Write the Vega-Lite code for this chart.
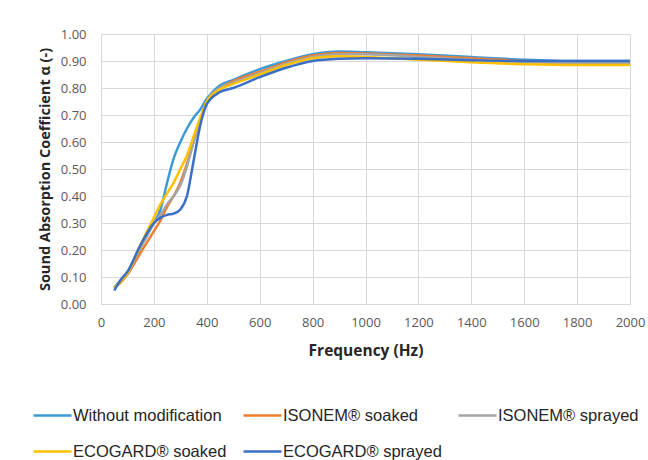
{
  "$schema": "https://vega.github.io/schema/vega-lite/v6.json",
  "width": 529,
  "height": 270,
  "autosize": {"type": "none"},
  "padding": {"left": 101, "top": 34, "right": 18, "bottom": 156},
  "background": "white",
  "config": {"view": {"stroke": null}},
  "data": {
    "values": [
      {"f": 50, "Without modification": 0.06, "ISONEM® soaked": 0.06, "ISONEM® sprayed": 0.06, "ECOGARD® soaked": 0.06, "ECOGARD® sprayed": 0.05},
      {"f": 75, "Without modification": 0.088, "ISONEM® soaked": 0.08, "ISONEM® sprayed": 0.085, "ECOGARD® soaked": 0.085, "ECOGARD® sprayed": 0.09},
      {"f": 100, "Without modification": 0.11, "ISONEM® soaked": 0.11, "ISONEM® sprayed": 0.115, "ECOGARD® soaked": 0.115, "ECOGARD® sprayed": 0.12},
      {"f": 150, "Without modification": 0.21, "ISONEM® soaked": 0.19, "ISONEM® sprayed": 0.21, "ECOGARD® soaked": 0.22, "ECOGARD® sprayed": 0.22},
      {"f": 200, "Without modification": 0.3, "ISONEM® soaked": 0.27, "ISONEM® sprayed": 0.3, "ECOGARD® soaked": 0.32, "ECOGARD® sprayed": 0.3},
      {"f": 225, "Without modification": 0.35, "ISONEM® soaked": 0.31, "ISONEM® sprayed": 0.33, "ECOGARD® soaked": 0.37, "ECOGARD® sprayed": 0.32},
      {"f": 250, "Without modification": 0.45, "ISONEM® soaked": 0.36, "ISONEM® sprayed": 0.37, "ECOGARD® soaked": 0.41, "ECOGARD® sprayed": 0.33},
      {"f": 275, "Without modification": 0.54, "ISONEM® soaked": 0.4, "ISONEM® sprayed": 0.4, "ECOGARD® soaked": 0.45, "ECOGARD® sprayed": 0.335},
      {"f": 300, "Without modification": 0.6, "ISONEM® soaked": 0.45, "ISONEM® sprayed": 0.44, "ECOGARD® soaked": 0.5, "ECOGARD® sprayed": 0.35},
      {"f": 325, "Without modification": 0.65, "ISONEM® soaked": 0.52, "ISONEM® sprayed": 0.51, "ECOGARD® soaked": 0.55, "ECOGARD® sprayed": 0.4},
      {"f": 350, "Without modification": 0.69, "ISONEM® soaked": 0.6, "ISONEM® sprayed": 0.6, "ECOGARD® soaked": 0.62, "ECOGARD® sprayed": 0.53},
      {"f": 375, "Without modification": 0.72, "ISONEM® soaked": 0.68, "ISONEM® sprayed": 0.68, "ECOGARD® soaked": 0.69, "ECOGARD® sprayed": 0.66},
      {"f": 400, "Without modification": 0.76, "ISONEM® soaked": 0.75, "ISONEM® sprayed": 0.75, "ECOGARD® soaked": 0.75, "ECOGARD® sprayed": 0.74},
      {"f": 450, "Without modification": 0.81, "ISONEM® soaked": 0.8, "ISONEM® sprayed": 0.8, "ECOGARD® soaked": 0.795, "ECOGARD® sprayed": 0.785},
      {"f": 500, "Without modification": 0.83, "ISONEM® soaked": 0.825, "ISONEM® sprayed": 0.82, "ECOGARD® soaked": 0.815, "ECOGARD® sprayed": 0.8},
      {"f": 600, "Without modification": 0.87, "ISONEM® soaked": 0.86, "ISONEM® sprayed": 0.855, "ECOGARD® soaked": 0.85, "ECOGARD® sprayed": 0.84},
      {"f": 700, "Without modification": 0.9, "ISONEM® soaked": 0.895, "ISONEM® sprayed": 0.89, "ECOGARD® soaked": 0.885, "ECOGARD® sprayed": 0.875},
      {"f": 800, "Without modification": 0.925, "ISONEM® soaked": 0.92, "ISONEM® sprayed": 0.915, "ECOGARD® soaked": 0.91, "ECOGARD® sprayed": 0.9},
      {"f": 900, "Without modification": 0.935, "ISONEM® soaked": 0.93, "ISONEM® sprayed": 0.925, "ECOGARD® soaked": 0.918, "ECOGARD® sprayed": 0.908},
      {"f": 1000, "Without modification": 0.932, "ISONEM® soaked": 0.928, "ISONEM® sprayed": 0.925, "ECOGARD® soaked": 0.915, "ECOGARD® sprayed": 0.91},
      {"f": 1200, "Without modification": 0.925, "ISONEM® soaked": 0.92, "ISONEM® sprayed": 0.915, "ECOGARD® soaked": 0.905, "ECOGARD® sprayed": 0.908},
      {"f": 1400, "Without modification": 0.915, "ISONEM® soaked": 0.91, "ISONEM® sprayed": 0.905, "ECOGARD® soaked": 0.895, "ECOGARD® sprayed": 0.903},
      {"f": 1600, "Without modification": 0.905, "ISONEM® soaked": 0.9, "ISONEM® sprayed": 0.895, "ECOGARD® soaked": 0.888, "ECOGARD® sprayed": 0.9},
      {"f": 1800, "Without modification": 0.9, "ISONEM® soaked": 0.895, "ISONEM® sprayed": 0.893, "ECOGARD® soaked": 0.885, "ECOGARD® sprayed": 0.9},
      {"f": 2000, "Without modification": 0.9, "ISONEM® soaked": 0.895, "ISONEM® sprayed": 0.893, "ECOGARD® soaked": 0.885, "ECOGARD® sprayed": 0.9}
    ]
  },
  "transform": [
    {"fold": ["Without modification", "ISONEM® soaked", "ISONEM® sprayed", "ECOGARD® soaked", "ECOGARD® sprayed"], "as": ["series", "alpha"]}
  ],
  "mark": {"type": "line", "interpolate": "monotone", "strokeWidth": 2.5},
  "encoding": {
    "x": {
      "field": "f", "type": "quantitative",
      "scale": {"domain": [0, 2000], "nice": false},
      "axis": {
        "values": [0, 200, 400, 600, 800, 1000, 1200, 1400, 1600, 1800, 2000],
        "format": "d",
        "title": "Frequency (Hz)",
        "titleFont": "Open Sans", "titleFontSize": 15.5, "titleFontWeight": "bold", "titleColor": "#262626",
        "titlePadding": 14,
        "labelFont": "Open Sans", "labelFontSize": 13, "labelColor": "#595959", "labelPadding": 12,
        "ticks": false, "domainColor": "#d9d9d9", "gridColor": "#d9d9d9", "labelFlush": false
      }
    },
    "y": {
      "field": "alpha", "type": "quantitative",
      "scale": {"domain": [0, 1], "nice": false},
      "axis": {
        "values": [0, 0.1, 0.2, 0.3, 0.4, 0.5, 0.6, 0.7, 0.8, 0.9, 1.0],
        "format": ".2f",
        "title": "Sound Absorption Coefficient α (-)",
        "titleFont": "Open Sans", "titleFontSize": 14.5, "titleFontWeight": "bold", "titleColor": "#262626",
        "titlePadding": 8,
        "labelFont": "Open Sans", "labelFontSize": 13, "labelColor": "#595959", "labelPadding": 15,
        "ticks": false, "domainColor": "#d9d9d9", "gridColor": "#d9d9d9"
      }
    },
    "color": {
      "field": "series", "type": "nominal",
      "scale": {
        "domain": ["Without modification", "ISONEM® soaked", "ISONEM® sprayed", "ECOGARD® soaked", "ECOGARD® sprayed"],
        "range": ["#3C9AD6", "#ED7D31", "#A5A5A5", "#FFC000", "#3A6FC4"]
      },
      "legend": {
        "orient": "none", "legendX": -69, "legendY": 361,
        "direction": "horizontal", "columns": 3,
        "title": null,
        "symbolType": "stroke", "symbolSize": 1444, "symbolStrokeWidth": 2.5,
        "labelFont": "Liberation Sans", "labelFontSize": 16.5, "labelColor": "#262626",
        "labelOffset": 0, "rowPadding": 7, "columnPadding": 11, "labelLimit": 300
      }
    }
  }
}
